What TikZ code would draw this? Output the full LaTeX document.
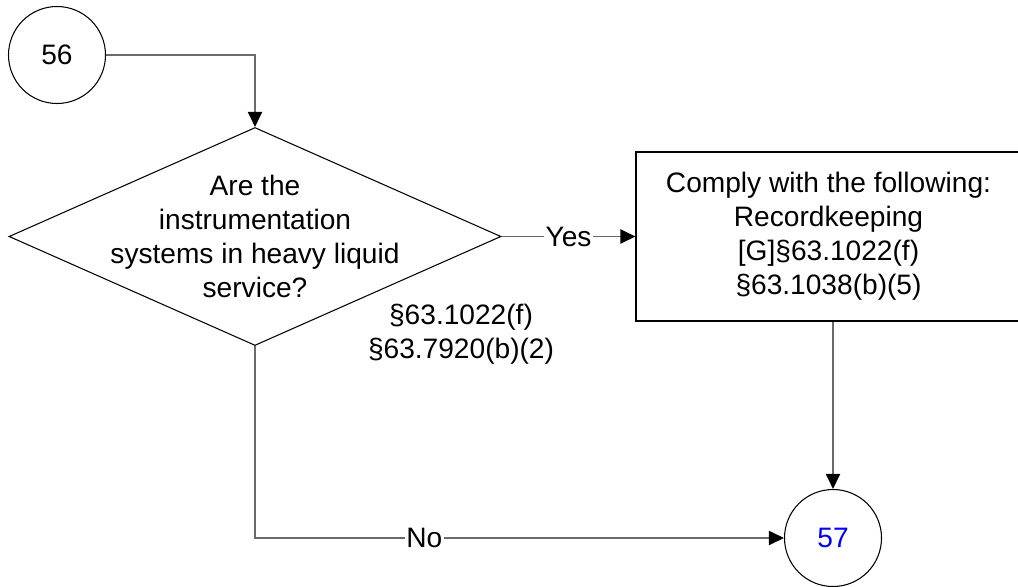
\documentclass[tikz,border=0pt]{standalone}
\usepackage{fontspec}
\setmainfont{Liberation Sans}
\usepackage{xcolor}
\usetikzlibrary{positioning, shapes.geometric, arrows.meta}
\definecolor{lineaGris}{HTML}{6A6A6A}
\definecolor{azulDestino}{HTML}{0000FF}
\newcommand{\letraDiag}{\fontsize{16}{19.4}\selectfont}

\begin{document}
\begin{tikzpicture}[
    conector/.style={
        circle,
        draw,
        line width=0.6pt,
        minimum size=1.94cm,
        inner sep=0pt,
        font=\letraDiag,
    },
    decision/.style={
        diamond,
        draw,
        line width=0.6pt,
        minimum width=9.84cm,
        minimum height=4.36cm,
        inner sep=0pt,
    },
    accion/.style={
        rectangle,
        draw,
        line width=0.6pt,
        minimum width=7.70cm,
        minimum height=3.38cm,
        align=center,
        font=\letraDiag,
    },
    texto/.style={align=center, font=\letraDiag, inner sep=0pt},
    flujo/.style={-{Triangle[length=3mm, width=2.8mm, color=black]}, line width=1.1pt, color=lineaGris},
    etiq/.style={font=\letraDiag, fill=white, inner sep=1pt, text=black},
]

\useasboundingbox (0,0) rectangle (20.36,-11.72);

\node[conector] (c56) at ( 1.14, -1.10) {56};
\node[decision] (preg) at ( 5.10, -4.73) {};
\node[texto]    (pregtxt) at (preg) {Are the\\instrumentation\\systems in heavy liquid\\service?};
\node[texto]    (refs) at ( 9.22, -6.68) {§63.1022(f)\\§63.7920(b)(2)};
\node[accion]   (cumplir) at (16.57, -4.73) {Comply with the following:\\Recordkeeping\\{[G]}§63.1022(f)\\§63.1038(b)(5)};
\node[conector, text=azulDestino] (c57) at (16.66, -10.76) {57};

\draw[flujo] (c56.east) -| (preg.north);
\draw[flujo] (preg.east) -- node[etiq] {Yes} (cumplir.west);
\draw[flujo] (c57.north |- cumplir.south) -- (c57.north);
\draw[flujo] (preg.south) |- node[etiq, pos=0.66] {No} (c57.west);

\end{tikzpicture}
\end{document}
